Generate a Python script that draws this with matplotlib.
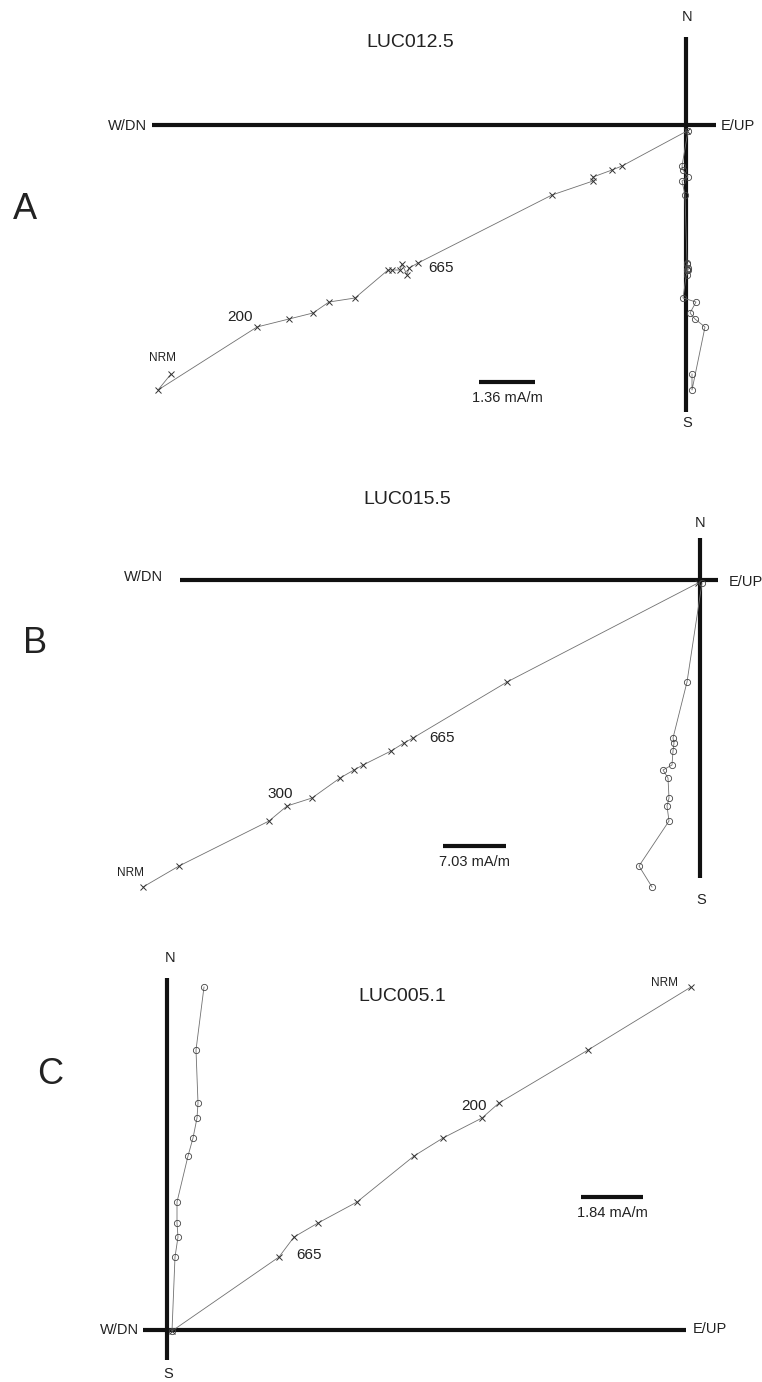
import matplotlib
matplotlib.use('Agg')
import matplotlib.pyplot as plt

plt.rcParams['font.family'] = ['Liberation Sans', 'DejaVu Sans']

# demagnetisation steps, values in plot units (scale bar length given below)
# shared north component, horizontal component for crosses and circles
A_north  = [-249, -265, -202, -194, -188, -177, -173, -145, -145, -145, -139, -150, -143, -138, -70, -56, -52, -45, -41, -6]
A_cross  = [-515, -528, -429, -397, -373, -357, -331, -298, -294, -286, -284, -279, -277, -268, -134, -93, -93, -74, -64, 1]
A_circle = [6, 6, 19, 9, 4, 10, -3, 1, 1, 2, 1, 1, 2, 1, -1, -4, 2, -3, -4, 2]

B_north  = [-307, -286, -241, -226, -218, -198, -190, -185, -171, -163, -158, -102, -3]
B_cross  = [-557, -521, -431, -413, -388, -360, -346, -337, -309, -296, -287, -193, -2]
B_circle = [-48, -61, -31, -33, -31, -32, -37, -28, -27, -26, -27, -13, 2]

C_north  = [343, 280, 227, 212, 192, 174, 128, 107, 93, 73, -1]
C_cross  = [524, 421, 332, 315, 276, 247, 190, 151, 127, 112, 5]
C_circle = [37, 29, 31, 30, 26, 21, 10, 10, 11, 8, 5]

titles = ['LUC012.5', 'LUC015.5', 'LUC005.1']
letters = ['A', 'B', 'C']
scale_labels = ['1.36 mA/m', '7.03 mA/m', '1.84 mA/m']
step_labels = [[(0, 'NRM'), (2, '200'), (13, '665')],
               [(0, 'NRM'), (3, '300'), (10, '665')],
               [(0, 'NRM'), (3, '200'), (9, '665')]]

# layout of each panel in figure pixels
panels = [
    dict(o=(686, 125), h=(152, 716), v=(37, 412), title=(410, 42), letter=(25, 209),
         wdn=(147, 126), eup=(721, 126), n=(687, 17), s=(687, 423),
         bar=(479, 535, 382), lab_off=[(-8, -16, 8.5), (-17, -10, 11), (10, 5, 11)]),
    dict(o=(700, 580), h=(180, 718), v=(538, 878), title=(407, 499), letter=(35, 643),
         wdn=(163, 577), eup=(729, 582), n=(700, 523), s=(701, 900),
         bar=(443, 506, 846), lab_off=[(-13, -14, 8.5), (-7, -12, 11), (16, 0, 11)]),
    dict(o=(167, 1330), h=(143, 686), v=(978, 1360), title=(402, 996), letter=(50, 1075),
         wdn=(139, 1330), eup=(693, 1329), n=(170, 958), s=(168, 1374),
         bar=(581, 643, 1197), lab_off=[(-27, -4, 8.5), (-8, -12, 11), (17, -2, 11)]),
]

data = [(A_north, A_cross, A_circle), (B_north, B_cross, B_circle), (C_north, C_cross, C_circle)]

fig = plt.figure(figsize=(7.62, 13.82), dpi=100)
ax = fig.add_axes([0, 0, 1, 1])
ax.set_xlim(0, 762)
ax.set_ylim(1382, 0)
ax.set_axis_off()

txt = '#222222'
for i, p in enumerate(panels):
    north, cross, circle = data[i]
    ox, oy = p['o']
    # axes cross
    ax.plot(p['h'], [oy, oy], color='#111111', lw=3.0, solid_capstyle='butt', zorder=1)
    ax.plot([ox, ox], p['v'], color='#111111', lw=3.0, solid_capstyle='butt', zorder=1)
    ys = [oy - n for n in north]
    xc = [ox + x for x in cross]
    xo = [ox + x for x in circle]
    ax.plot(xc, ys, color='#707070', lw=0.6, marker='x', ms=4.5, mew=0.7,
            mec='#333333', zorder=3)
    ax.plot(xo, ys, color='#707070', lw=0.6, marker='o', ms=4.5, mew=0.6,
            mec='#444444', mfc='none', zorder=3)
    # step labels
    for (k, lab), (dx, dy, fs) in zip(step_labels[i], p['lab_off']):
        ha = 'left' if dx > 0 else 'center'
        ax.text(xc[k] + dx, ys[k] + dy, lab, fontsize=fs, color=txt, ha=ha, va='center')
    ax.text(*p['title'], titles[i], fontsize=14, color=txt, ha='center', va='center')
    ax.text(*p['letter'], letters[i], fontsize=26, color=txt, ha='center', va='center')
    ax.text(*p['wdn'], 'W/DN', fontsize=10.5, color=txt, ha='right', va='center')
    ax.text(*p['eup'], 'E/UP', fontsize=10.5, color=txt, ha='left', va='center')
    ax.text(*p['n'], 'N', fontsize=10.5, color=txt, ha='center', va='center')
    ax.text(*p['s'], 'S', fontsize=10.5, color=txt, ha='center', va='center')
    x0, x1, by = p['bar']
    ax.plot([x0, x1], [by, by], color='#111111', lw=3.0, solid_capstyle='butt')
    ax.text((x0 + x1) / 2, by + 16, scale_labels[i], fontsize=10.5, color=txt,
            ha='center', va='center')

fig.savefig('out.png', dpi=100)
